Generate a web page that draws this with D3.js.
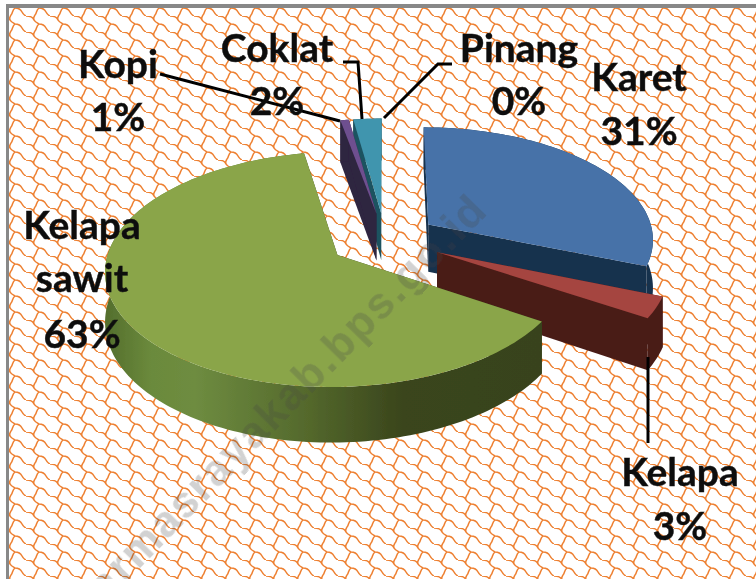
<!DOCTYPE html>
<html><head><meta charset="utf-8">
<script src="https://cdn.jsdelivr.net/npm/d3@7"></script>
<style>html,body{margin:0;padding:0;background:#fff}svg{display:block}</style>
</head><body><svg id="c" width="756" height="579"></svg>
<script>
const categories = ["Karet","Kelapa","Kelapa sawit","Kopi","Coklat","Pinang"];
const shares = [31,3,63,0.7,2.3,0];
const explodeBy = [0.235,0.255,0.25,0.235,0.235,0.235];
const topColors = ["#4672a8","#a5443f","#8aa54a","#6e4f8f","#3f95ae","#3f95ae"];
const sideColors = ["#17304d","#4a1c18","url(#greenSide)","#2f2540","#1f5261","#1f5261"];
const paintOrder = ["Pinang","Coklat","Kopi","Karet","Kelapa","Kelapa sawit"];
const labelLines = [
  {name:"Karet",x:639,lines:[["Karet",78],["31%",132]]},
  {name:"Kelapa",x:680,lines:[["Kelapa",473],["3%",527]]},
  {name:"Kelapa sawit",x:82,lines:[["Kelapa",226],["sawit",279],["63%",335]]},
  {name:"Kopi",x:118,lines:[["Kopi",65],["1%",118]]},
  {name:"Coklat",x:277,lines:[["Coklat",49],["2%",102]]},
  {name:"Pinang",x:519,lines:[["Pinang",49],["0%",102]]}
];
const leaders = [
  [[160,74],[340,121]],
  [[343,62],[358,62],[362,119]],
  [[452,64],[438,64],[384,118]],
  [[648,357],[648,443]]
];

const W=756,H=579;
const svg=d3.select("#c");
const defs=svg.append("defs");

const pat=defs.append("pattern").attr("id","shingle").attr("patternUnits","userSpaceOnUse")
  .attr("width",24).attr("height",16).attr("x",2).attr("y",0);
pat.append("rect").attr("width",24).attr("height",16).attr("fill","#fff");
const chain="M0,0C4,0 7,1 8,4C9,6 11,7 13,8C17,8 19,10 20,12C21,14 22,15 24,16";
const branch="M13,8C10,10 11,13 9,15C8,17 7,18 8,20";
const pg=pat.append("g").attr("fill","none").attr("stroke","#ee8030").attr("stroke-width",1.5);
pg.append("path").attr("d",chain);
pg.append("path").attr("d",branch);
pg.append("path").attr("d",branch).attr("transform","translate(0,-16)");

const g0=defs.append("linearGradient").attr("id","greenSide").attr("gradientUnits","userSpaceOnUse")
  .attr("x1",108).attr("x2",541).attr("y1",0).attr("y2",0);
[[0,"#55702e"],[0.1,"#6b8a3c"],[0.2,"#6e8c40"],[0.45,"#556a2d"],[0.68,"#3a451c"],[1,"#38431b"]]
  .forEach(s=>g0.append("stop").attr("offset",s[0]).attr("stop-color",s[1]));
defs.append("filter").attr("id","soft").attr("x",0).attr("y",0).attr("width",1).attr("height",1)
  .attr("filterUnits","objectBoundingBox")
  .append("feGaussianBlur").attr("stdDeviation",0.6);

const cx=385,cy=239,R=226,Q=112,k=0.12,depth=48;
const project=(X,Z,drop=0)=>{const s=1/(1+k*Z);return [cx+R*X*s,cy-Q*Z*s+drop*s];};
const line=d3.line();

const arcs=d3.pie().sort(null).value((d,i)=>shares[i])(categories);
const root=svg.append("g");
root.append("rect").attr("width",W).attr("height",H).attr("fill","#fff");
root.append("rect").attr("x",8).attr("y",7).attr("width",W-8).attr("height",H-7).attr("fill","url(#shingle)");
root.append("rect").attr("x",6).attr("y",4).attr("width",3).attr("height",H-4).attr("fill","#888");
root.append("rect").attr("x",6).attr("y",4).attr("width",W-6).attr("height",4).attr("fill","#888");

paintOrder.forEach(name=>{
  const i=categories.indexOf(name), a=arcs[i];
  if(a.endAngle-a.startAngle<1e-6) return;
  const mid=(a.startAngle+a.endAngle)/2;
  const ox=explodeBy[i]*Math.sin(mid), oz=explodeBy[i]*Math.cos(mid);
  const pt=(t,r,dr)=>project(ox+r*Math.sin(t),oz+r*Math.cos(t),dr);
  const n=Math.max(4,Math.ceil((a.endAngle-a.startAngle)*40));
  const ts=d3.range(n+1).map(j=>a.startAngle+(a.endAngle-a.startAngle)*j/n);
  const g=root.append("g");
  [a.startAngle,a.endAngle].forEach(t=>{
    g.append("path").attr("fill",sideColors[i]==="url(#greenSide)"?"#38431b":sideColors[i])
     .attr("d",line([pt(0,0,0),pt(t,1,0),pt(t,1,depth),pt(0,0,depth)])+"Z");
  });
  g.append("path").attr("fill",sideColors[i])
   .attr("d",line(ts.map(t=>pt(t,1,0)).concat(ts.slice().reverse().map(t=>pt(t,1,depth))))+"Z");
  g.append("path").attr("fill",topColors[i])
   .attr("d",line([pt(0,0,0)].concat(ts.map(t=>pt(t,1,0))))+"Z");
});

leaders.forEach(l=>root.append("path").attr("d",line(l)).attr("fill","none").attr("stroke","#000").attr("stroke-width",3));

labelLines.forEach(l=>l.lines.forEach(([t,y])=>{
  root.append("text").attr("x",l.x).attr("y",y+13).attr("text-anchor","middle")
   .attr("font-family","Lato, 'Open Sans', sans-serif").attr("font-weight",700).attr("font-size",39)
   .attr("fill","#111").attr("stroke","#111").attr("stroke-width",0.4).text(t);
}));

root.append("text").attr("transform","translate(490,212) rotate(-45.5)").attr("text-anchor","end")
  .attr("font-family","'Liberation Sans', sans-serif").attr("font-weight",700).attr("font-size",44)
  .attr("fill","#444").attr("fill-opacity",0.24).attr("letter-spacing",2).text("dharmasrayakab.bps.go.id");
root.attr("filter","url(#soft)");
</script></body></html>
